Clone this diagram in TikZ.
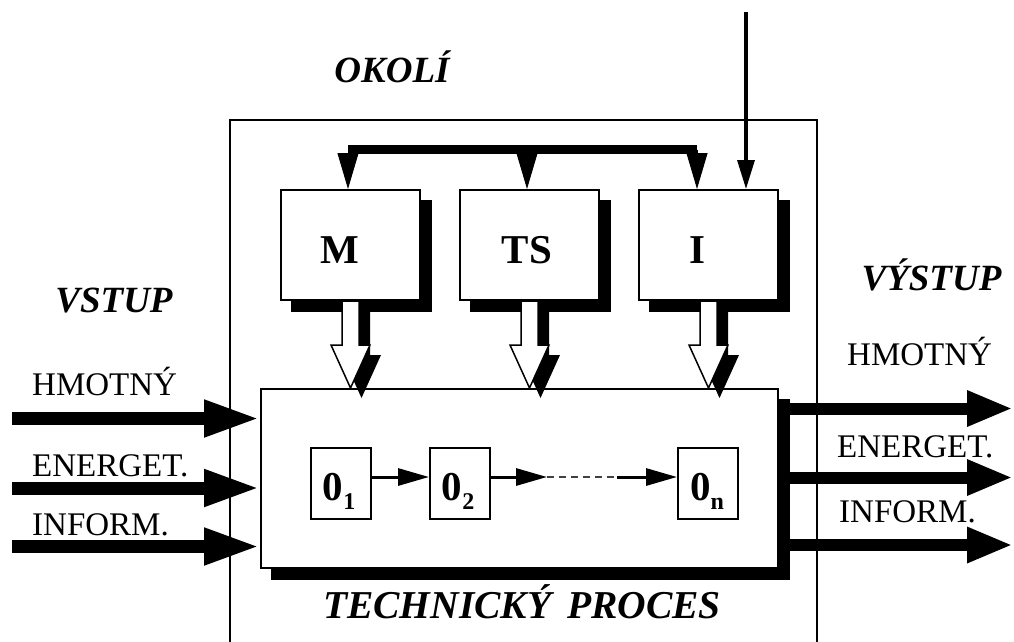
\documentclass[tikz,border=0pt]{standalone}
\usepackage{fontspec}
\setmainfont{Liberation Serif}
\usetikzlibrary{arrows.meta,calc}
\newcommand\hollowarrow[3]{%
  \path[#2] ($(#1)+(-8.5,0)+(#3)$) -- ++(0,44) -- ++(-11,0) -- ++(19.5,43) -- ++(19.5,-43) -- ++(-11,0) -- ++(0,-44) -- cycle;}
\begin{document}
\begin{tikzpicture}[x=1pt,y=-1pt,
  bigbox/.style={draw,line width=2pt,fill=white,minimum width=139pt,minimum height=110pt,inner sep=0pt,anchor=north west},
  smallbox/.style={draw,line width=2pt,fill=white,minimum width=60pt,minimum height=71pt,inner sep=0pt,anchor=north west},
  procbox/.style={draw,line width=2pt,fill=white,minimum width=517pt,minimum height=179pt,inner sep=0pt,anchor=north west},
  title/.style={font=\fontsize{37}{37}\selectfont\bfseries\itshape,inner sep=0pt,anchor=base},
  lbl/.style={font=\fontsize{33}{33}\selectfont,inner sep=0pt,anchor=base west},
  letter/.style={font=\fontsize{41}{41}\selectfont\bfseries,inner sep=0pt,anchor=base},
  oname/.style={font=\fontsize{41}{41}\selectfont\bfseries,inner sep=0pt,anchor=base},
  fatin/.style={line width=13pt,-{Triangle[length=56pt,width=34pt]}},
  fatout/.style={line width=12pt,-{Triangle[length=46pt,width=33pt]}},
  bus/.style={line width=9pt},
  busarrow/.style={line width=1pt,-{Triangle[length=36pt,width=21pt]}},
  extarrow/.style={line width=3.3pt,-{Triangle[length=29pt,width=17pt]}},
  flow/.style={line width=3pt,-{Triangle[length=31pt,width=17pt]}},
  dots/.style={line width=1.2pt,black!75,dash pattern=on 7pt off 5pt},
  shadowfill/.style={fill=black},
  hollow/.style={fill=white,draw=black,line width=1.5pt}
]
\useasboundingbox (0,0) rectangle (1014,641);
% environment box
\draw[line width=2.5pt] (230,650) -- (230,120) -- (817,120) -- (817,650);
% blocks M, TS, I
\node[bigbox] (M) at (280,189) {};
\node[bigbox] (TS) at (459,189) {};
\node[bigbox] (I) at (638,189) {};
\foreach \b in {M,TS,I}{
  \fill[shadowfill] ($(\b.north west)+(10.5,10.5)$) rectangle ($(\b.south east)+(10.5,10.5)$);
  \node[bigbox] at (\b.north west) {};
}
\node[letter] (Mt) at (340,263) {M};
\node[letter] (TSt) at (527,263) {TS};
\node[letter] (It) at (697,263) {I};
% bus
\coordinate (bM) at (348,149.5);
\coordinate (bTS) at (527,149.5);
\coordinate (bI) at (697,149.5);
\draw[bus] (bM) -- (bI);
\draw[busarrow] (bM) -- (bM |- M.north);
\draw[busarrow] (bTS) -- (bTS |- TS.north);
\draw[busarrow] (bI) -- (bI |- I.north);
\coordinate (ext) at (746,12);
\draw[extarrow] (ext) -- (ext |- I.north);
% process
\node[procbox] (P) at (260,388) {};
\fill[shadowfill] ($(P.north west)+(10.5,10.5)$) rectangle ($(P.south east)+(10.5,10.5)$);
\coordinate (r1) at ($(P.north east)+(0,20.5)$);
\coordinate (r2) at ($(P.north east)+(0,89.5)$);
\coordinate (r3) at ($(P.north east)+(0,157)$);
\draw[fatout] (r1) -- (1013,408.5);
\draw[fatout] (r2) -- (1013,477.5);
\draw[fatout] (r3) -- (1013,545);
\node[procbox] at (P.north west) {};
% hollow arrows
\foreach \b in {M,TS,I}{
  \hollowarrow{\b.south}{shadowfill}{11,10}
  \hollowarrow{\b.south}{hollow}{0,0}
}
% inputs
\coordinate (l1) at (12,418.5);
\coordinate (l2) at (12,488);
\coordinate (l3) at (12,546.5);
\draw[fatin] (l1) -- (l1 -| P.west);
\draw[fatin] (l2) -- (l2 -| P.west);
\draw[fatin] (l3) -- (l3 -| P.west);
% operations
\node[smallbox] (o1) at (310,447) {};
\node[smallbox] (o2) at (429,447) {};
\node[smallbox] (on) at (677,447) {};
\node[oname] (o1t) at (339,500) {0\raisebox{-9pt}{\fontsize{24}{24}\selectfont 1}};
\node[oname] (o2t) at (458,500) {0\raisebox{-9pt}{\fontsize{24}{24}\selectfont 2}};
\node[oname] (ont) at (707,500) {0\raisebox{-9pt}{\fontsize{24}{24}\selectfont n}};
\coordinate (d1) at (547,477);
\coordinate (d2) at (617,477);
\draw[flow] ($(o1.north east)+(0,30)$) -- ($(o2.north west)+(0,30)$);
\draw[flow] ($(o2.north east)+(0,30)$) -- (d1);
\draw[dots] (d1) -- (d2);
\draw[flow] (d2) -- ($(on.north west)+(0,30)$);
% labels
\node[title] (okoli) at (392,82) {OKOLÍ};
\node[title] (vstup) at (114,312) {VSTUP};
\node[title] (vystup) at (931.5,290) {VÝSTUP};
\node[title,font=\fontsize{39.5}{39.5}\selectfont\bfseries\itshape] (tp) at (522,618) {TECHNICKÝ\hspace{0.4em}PROCES};
\node[lbl] (li1) at (32,395) {HMOTNÝ};
\node[lbl] (li2) at (32,476) {ENERGET.};
\node[lbl] (li3) at (32,535) {INFORM.};
\node[lbl] (ro1) at (847,365) {HMOTNÝ};
\node[lbl] (ro2) at (837,457) {ENERGET.};
\node[lbl] (ro3) at (839,522) {INFORM.};
\end{tikzpicture}
\end{document}
